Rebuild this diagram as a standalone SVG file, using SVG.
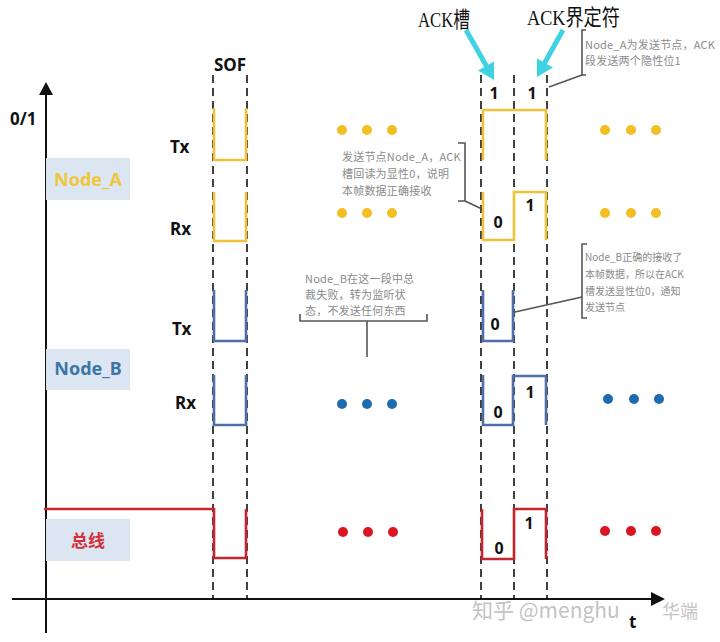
<svg xmlns="http://www.w3.org/2000/svg" width="720" height="642" viewBox="0 0 720 642">
<style>
.lbl{font-family:"Noto Sans","Liberation Sans","Noto Sans CJK SC",sans-serif;font-weight:bold;fill:#111;font-size:17px}
.num{font-family:"Noto Sans","Liberation Sans",sans-serif;font-weight:bold;fill:#111;font-size:16px;text-anchor:middle}
.note{font-family:"Noto Sans CJK SC","Noto Sans",sans-serif;fill:#8a8a8a;font-size:11px;letter-spacing:0.2px}
.note3{font-family:"Noto Sans CJK SC","Noto Sans",sans-serif;fill:#8a8a8a;font-size:10px}
.dash{stroke:#111;stroke-width:1.6;stroke-dasharray:8 5;fill:none}
.sigA{stroke:#F0C23B;stroke-width:2.6;fill:none}
.sigB{stroke:#4F6FA8;stroke-width:2.6;fill:none}
.sigR{stroke:#C4262C;stroke-width:2.6;fill:none}
.brk{stroke:#555;stroke-width:1.6;fill:none}
.box{fill:#DCE6F2}
.ack{font-family:"Liberation Serif","Noto Sans CJK SC",serif;font-size:22px;fill:#111}
.cyan{stroke:#3FD2E2;stroke-width:5;fill:none}
.node{font-family:"Noto Sans","Liberation Sans",sans-serif;font-weight:bold;font-size:18px;text-anchor:middle}
</style>

<g id="axes">
<line x1="46" y1="92" x2="46" y2="633" stroke="#111" stroke-width="2"/>
<polygon points="46,82 39,95 53,95" fill="#111"/>
<line x1="12" y1="599" x2="652" y2="599" stroke="#111" stroke-width="2"/>
<polygon points="665,599 651,592 651,606" fill="#111"/>
<text class="lbl" x="10" y="125">0/1</text>
<text class="lbl" x="629" y="628" font-size="16">t</text>
</g>

<g id="watermark" font-family="Noto Sans CJK SC,Noto Sans,sans-serif" fill="#c4c4c4">
<text x="472" y="618" font-size="21">知乎 @menghu</text>
<text x="662" y="618" font-size="18">华端</text>
</g>

<g id="guides">
<line class="dash" x1="213" y1="75" x2="213" y2="599"/>
<line class="dash" x1="247" y1="75" x2="247" y2="599"/>
<line class="dash" x1="481" y1="75" x2="481" y2="599"/>
<line class="dash" x1="514" y1="75" x2="514" y2="599"/>
<line class="dash" x1="547" y1="75" x2="547" y2="599"/>
<text class="lbl" x="230" y="71" text-anchor="middle">SOF</text>
</g>

<g id="ack-labels">
<text class="ack" x="418" y="27" textLength="52" lengthAdjust="spacingAndGlyphs">ACK槽</text>
<text class="ack" x="527" y="25" textLength="93" lengthAdjust="spacingAndGlyphs">ACK界定符</text>
<line class="cyan" x1="466" y1="30" x2="487" y2="67"/>
<polygon points="494,80 478,70.5 494,61.5" fill="#3FD2E2"/>
<line class="cyan" x1="563" y1="30" x2="544" y2="64"/>
<polygon points="537,77 537,58.5 553,67.5" fill="#3FD2E2"/>
<text class="num" x="494" y="99">1</text>
<text class="num" x="532" y="99">1</text>
</g>

<g id="node-a">
<rect class="box" x="46" y="158" width="84" height="42"/>
<text class="node" x="88" y="186" fill="#F0C640">Node_A</text>
<text class="lbl" x="170" y="153">Tx</text>
<text class="lbl" x="170" y="235">Rx</text>
<path class="sigA" d="M214,108 V160 H246 V108"/>
<path class="sigA" d="M214,192 V241 H246 V192"/>
<path class="sigA" d="M483,160 V110 H546 V160"/>
<path class="sigA" d="M483,192 V240 H514 V192 H546 V240"/>
<text class="num" x="498" y="228">0</text>
<text class="num" x="530" y="211">1</text>
<g fill="#F2BE22">
<circle cx="342" cy="130" r="5"/><circle cx="367" cy="130" r="5"/><circle cx="392" cy="130" r="5"/>
<circle cx="605" cy="130" r="5"/><circle cx="631" cy="130" r="5"/><circle cx="656" cy="130" r="5"/>
<circle cx="342" cy="213" r="5"/><circle cx="367" cy="213" r="5"/><circle cx="392" cy="213" r="5"/>
<circle cx="605" cy="213" r="5"/><circle cx="631" cy="213" r="5"/><circle cx="656" cy="213" r="5"/>
</g>
</g>

<g id="node-b">
<rect class="box" x="46" y="349" width="84" height="41"/>
<text class="node" x="88" y="375" fill="#3D76A6">Node_B</text>
<text class="lbl" x="172" y="335">Tx</text>
<text class="lbl" x="175" y="409">Rx</text>
<path class="sigB" d="M214,290 V341 H246 V290"/>
<path class="sigB" d="M214,375 V425 H246 V375"/>
<path class="sigB" d="M483,290 V341 H513 V290"/>
<path class="sigB" d="M483,375 V425 H513 V376 H546 V425"/>
<text class="num" x="495" y="330">0</text>
<text class="num" x="498" y="418">0</text>
<text class="num" x="530" y="398">1</text>
<g fill="#1F6BB0">
<circle cx="342" cy="404" r="5"/><circle cx="367" cy="404" r="5"/><circle cx="392" cy="404" r="5"/>
<circle cx="608" cy="399" r="5"/><circle cx="634" cy="399" r="5"/><circle cx="659" cy="399" r="5"/>
</g>
</g>

<g id="bus">
<rect class="box" x="46" y="519" width="84" height="42"/>
<text x="88" y="547" text-anchor="middle" font-family="Noto Sans CJK SC,sans-serif" font-weight="bold" font-size="17" fill="#D0313A">总线</text>
<path class="sigR" d="M44,509 H214 V558 H246 V509"/>
<path class="sigR" d="M482,509 V559 H514 V509 H546 V559"/>
<text class="num" x="499" y="554">0</text>
<text class="num" x="529" y="529">1</text>
<g fill="#D9161F">
<circle cx="343" cy="532" r="5"/><circle cx="368" cy="532" r="5"/><circle cx="393" cy="532" r="5"/>
<circle cx="605" cy="531" r="5"/><circle cx="631" cy="531" r="5"/><circle cx="656" cy="531" r="5"/>
</g>
</g>

<g id="note-ack-delim">
<text class="note" x="585" y="49">Node_A为发送节点，ACK</text>
<text class="note" x="585" y="65">段发送两个隐性位1</text>
</g>
<g id="note-node-a">
<text class="note" x="342" y="161">发送节点Node_A，ACK</text>
<text class="note" x="342" y="178">槽回读为显性0，说明</text>
<text class="note" x="342" y="195">本帧数据正确接收</text>
</g>
<g id="note-node-b-ack">
<text class="note3" x="585" y="261">Node_B正确的接收了</text>
<text class="note3" x="585" y="278">本帧数据，所以在ACK</text>
<text class="note3" x="585" y="295">槽发送显性位0，通知</text>
<text class="note3" x="585" y="311">发送节点</text>
</g>
<g id="note-node-b-lost">
<text class="note" x="305" y="283">Node_B在这一段中总</text>
<text class="note" x="305" y="299">裁失败，转为监听状</text>
<text class="note" x="305" y="315">态，不发送任何东西</text>
</g>

<g id="connectors">
<path class="brk" d="M586,30 H582 V75 H586"/>
<line class="brk" x1="582" y1="75" x2="549" y2="87"/>
<path class="brk" d="M458,143 H465 V201 H458"/>
<line class="brk" x1="465" y1="201" x2="482" y2="209"/>
<path class="brk" d="M587,244 H582 V318 H587"/>
<line class="brk" x1="582" y1="297" x2="515" y2="312"/>
<path class="brk" d="M300,314 V321 H427 V314"/>
<line class="brk" x1="367" y1="321" x2="367" y2="357"/>
</g>
</svg>
